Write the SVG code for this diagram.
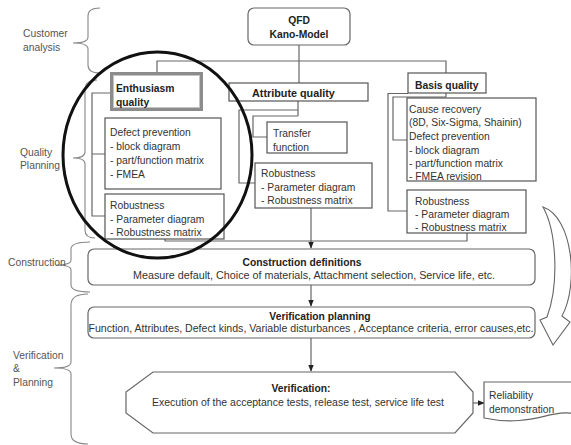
<svg xmlns="http://www.w3.org/2000/svg" width="571" height="445" viewBox="0 0 571 445">
  <defs>
    <marker id="arr" viewBox="0 0 10 10" refX="9" refY="5" markerWidth="6" markerHeight="6" orient="auto">
      <path d="M0,1 L10,5 L0,9 Z" fill="#222"/>
    </marker>
    <style>
      .box { fill: #fff; stroke: #555; stroke-width: 1.2; }
      .rbox { fill: #fff; stroke: #666; stroke-width: 1.2; }
      .ln { fill: none; stroke: #666; stroke-width: 1.2; }
      .brace { fill: none; stroke: #888; stroke-width: 1.1; }
      .t { font-family: "Liberation Sans", Arial, sans-serif; font-size: 10.3px; fill: #333; }
      .b { font-weight: bold; fill: #222; }
      .side { fill: #555; }
      .mid { text-anchor: middle; }
    </style>
  </defs>
  <rect width="571" height="445" fill="#fff"/>

  <!-- phase labels with braces -->
  <g id="phase-customer">
    <path class="brace" d="M100,8 Q88,8 88,16 L88,37 Q88,43 73,43 Q88,43 88,49 L88,65 Q88,73 100,73"/>
    <text class="t side" x="23" y="37">Customer</text>
    <text class="t side" x="23" y="51">analysis</text>
  </g>
  <g id="phase-quality">
    <path class="brace" d="M97,80 Q85,80 85,90 L85,152 Q85,158 73,158 Q85,158 85,164 L85,230 Q85,238 95,238"/>
    <text class="t side" x="20" y="156">Quality</text>
    <text class="t side" x="20" y="169">Planning</text>
  </g>
  <g id="phase-construction">
    <path class="brace" d="M90,242 Q71,242 71,249 L71,260 Q71,265 56,265 Q71,265 71,270 L71,285 Q71,292 90,292"/>
    <text class="t side" x="8" y="266">Construction</text>
  </g>
  <g id="phase-verification">
    <path class="brace" d="M88,294 Q71,294 71,305 L71,362 Q71,368 54,368 Q71,368 71,374 L71,434 Q71,444 88,444"/>
    <text class="t side" x="13" y="359">Verification</text>
    <text class="t side" x="13" y="372">&amp;</text>
    <text class="t side" x="13" y="386">Planning</text>
  </g>

  <!-- connectors -->
  <g id="connectors">
    <path class="ln" d="M299,45 V83"/>
    <path class="ln" d="M157,72 V61 H446 V73"/>
    <!-- enthusiasm column -->
    <path class="ln" d="M110,93 H92 V216 H105 M92,154 H105"/>
    <!-- attribute column -->
    <path class="ln" d="M298,101 V116 M298,110 H239 V183 H255 M298,116 H253 V137 H267"/>
    <!-- basis column -->
    <path class="ln" d="M446,93 V97 M408,93.5 H388 V211 H407 M446,97 H393 V140 H407"/>
    <!-- gather to construction -->
    <path class="ln" d="M165,238 V241 H467 V233"/>
    <path class="ln" d="M311,208 V248" marker-end="url(#arr)"/>
    <path class="ln" d="M311,285 V306" marker-end="url(#arr)"/>
    <path class="ln" d="M311,338 V371" marker-end="url(#arr)"/>
    <path class="ln" d="M473,403 H484" marker-end="url(#arr)"/>
  </g>

  <!-- nodes -->
  <g id="qfd">
    <rect class="rbox" x="248" y="8" width="102" height="37" rx="6"/>
    <text class="t b mid" x="299" y="24">QFD</text>
    <text class="t b mid" x="299" y="38">Kano-Model</text>
  </g>

  <g id="enthusiasm">
    <rect x="111.5" y="73.5" width="90" height="36" fill="#fff" stroke="#8c8c8c" stroke-width="3"/>
    <rect x="113.5" y="75.5" width="86" height="32" fill="none" stroke="#c4c4c4" stroke-width="1"/>
    <text class="t b" x="116" y="92">Enthusiasm</text>
    <text class="t b" x="116" y="106">quality</text>
  </g>
  <g id="enthusiasm-defect">
    <rect class="box" x="105" y="118" width="116" height="71"/>
    <text class="t" x="110" y="136">Defect prevention</text>
    <text class="t" x="110" y="150">- block diagram</text>
    <text class="t" x="110" y="164">- part/function matrix</text>
    <text class="t" x="110" y="178">- FMEA</text>
  </g>
  <g id="enthusiasm-robustness">
    <rect class="box" x="105" y="194" width="119" height="45"/>
    <text class="t" x="110" y="209">Robustness</text>
    <text class="t" x="110" y="223">- Parameter diagram</text>
    <text class="t" x="110" y="236">- Robustness matrix</text>
  </g>

  <g id="attribute">
    <rect class="box" x="229" y="83" width="139" height="18"/>
    <text class="t b" x="252" y="97" style="font-size:10.8px">Attribute quality</text>
  </g>
  <g id="attribute-transfer">
    <rect class="box" x="267" y="122" width="80" height="31"/>
    <text class="t" x="273" y="137">Transfer</text>
    <text class="t" x="273" y="151">function</text>
  </g>
  <g id="attribute-robustness">
    <rect class="box" x="255" y="163" width="117" height="45"/>
    <text class="t" x="261" y="177">Robustness</text>
    <text class="t" x="261" y="191">- Parameter diagram</text>
    <text class="t" x="261" y="204">- Robustness matrix</text>
  </g>

  <g id="basis">
    <rect class="box" x="408" y="73" width="78" height="20"/>
    <text class="t b" x="415" y="89">Basis quality</text>
  </g>
  <g id="basis-cause">
    <rect class="box" x="407" y="98" width="129" height="83"/>
    <text class="t" x="409" y="113">Cause recovery</text>
    <text class="t" x="409" y="126">(8D, Six-Sigma, Shainin)</text>
    <text class="t" x="409" y="140">Defect prevention</text>
    <text class="t" x="409" y="154">- block diagram</text>
    <text class="t" x="409" y="167">- part/function matrix</text>
    <text class="t" x="409" y="180">- FMEA revision</text>
  </g>
  <g id="basis-robustness">
    <rect class="box" x="407" y="190" width="119" height="43"/>
    <text class="t" x="415" y="205">Robustness</text>
    <text class="t" x="415" y="218">- Parameter diagram</text>
    <text class="t" x="415" y="231">- Robustness matrix</text>
  </g>

  <g id="construction">
    <rect class="rbox" x="88" y="249" width="447" height="36" rx="6"/>
    <text class="t b mid" x="302" y="266">Construction definitions</text>
    <text class="t mid" x="314" y="279" textLength="362" lengthAdjust="spacingAndGlyphs">Measure default, Choice of materials, Attachment selection, Service life, etc.</text>
  </g>

  <g id="verification-planning">
    <rect class="rbox" x="88" y="307" width="447" height="31" rx="6"/>
    <text class="t b mid" x="320" y="320">Verification planning</text>
    <text class="t mid" x="311" y="332" textLength="445" lengthAdjust="spacingAndGlyphs">Function, Attributes, Defect kinds, Variable disturbances , Acceptance criteria, error causes,etc.</text>
  </g>

  <g id="verification">
    <path class="rbox" d="M153,372 H455 L473,392 V413 L455,433 H153 L126,413 V392 Z"/>
    <text class="t b mid" x="301" y="392">Verification:</text>
    <text class="t mid" x="298" y="406" textLength="292" lengthAdjust="spacingAndGlyphs">Execution of the acceptance tests, release test, service life test</text>
  </g>

  <g id="reliability">
    <path class="rbox" d="M484,382 H575 V414 C552,408 532,428 484,418 Z"/>
    <text class="t" x="489" y="399">Reliability</text>
    <text class="t" x="489" y="413">demonstration</text>
  </g>

  <!-- feedback arrow on the right -->
  <g id="feedback">
    <path fill="#fff" stroke="#666" stroke-width="1.1" d="M543,207 C573,217 579,285 562,316 L570,322 L553,345 L540,320 L547,317 C559,285 557,232 543,207 Z"/>
  </g>

  <!-- highlight ring around the enthusiasm column -->
  <g id="highlight">
    <ellipse cx="157.5" cy="155" rx="94.5" ry="103" fill="none" stroke="#111" stroke-width="3"/>
  </g>
</svg>
